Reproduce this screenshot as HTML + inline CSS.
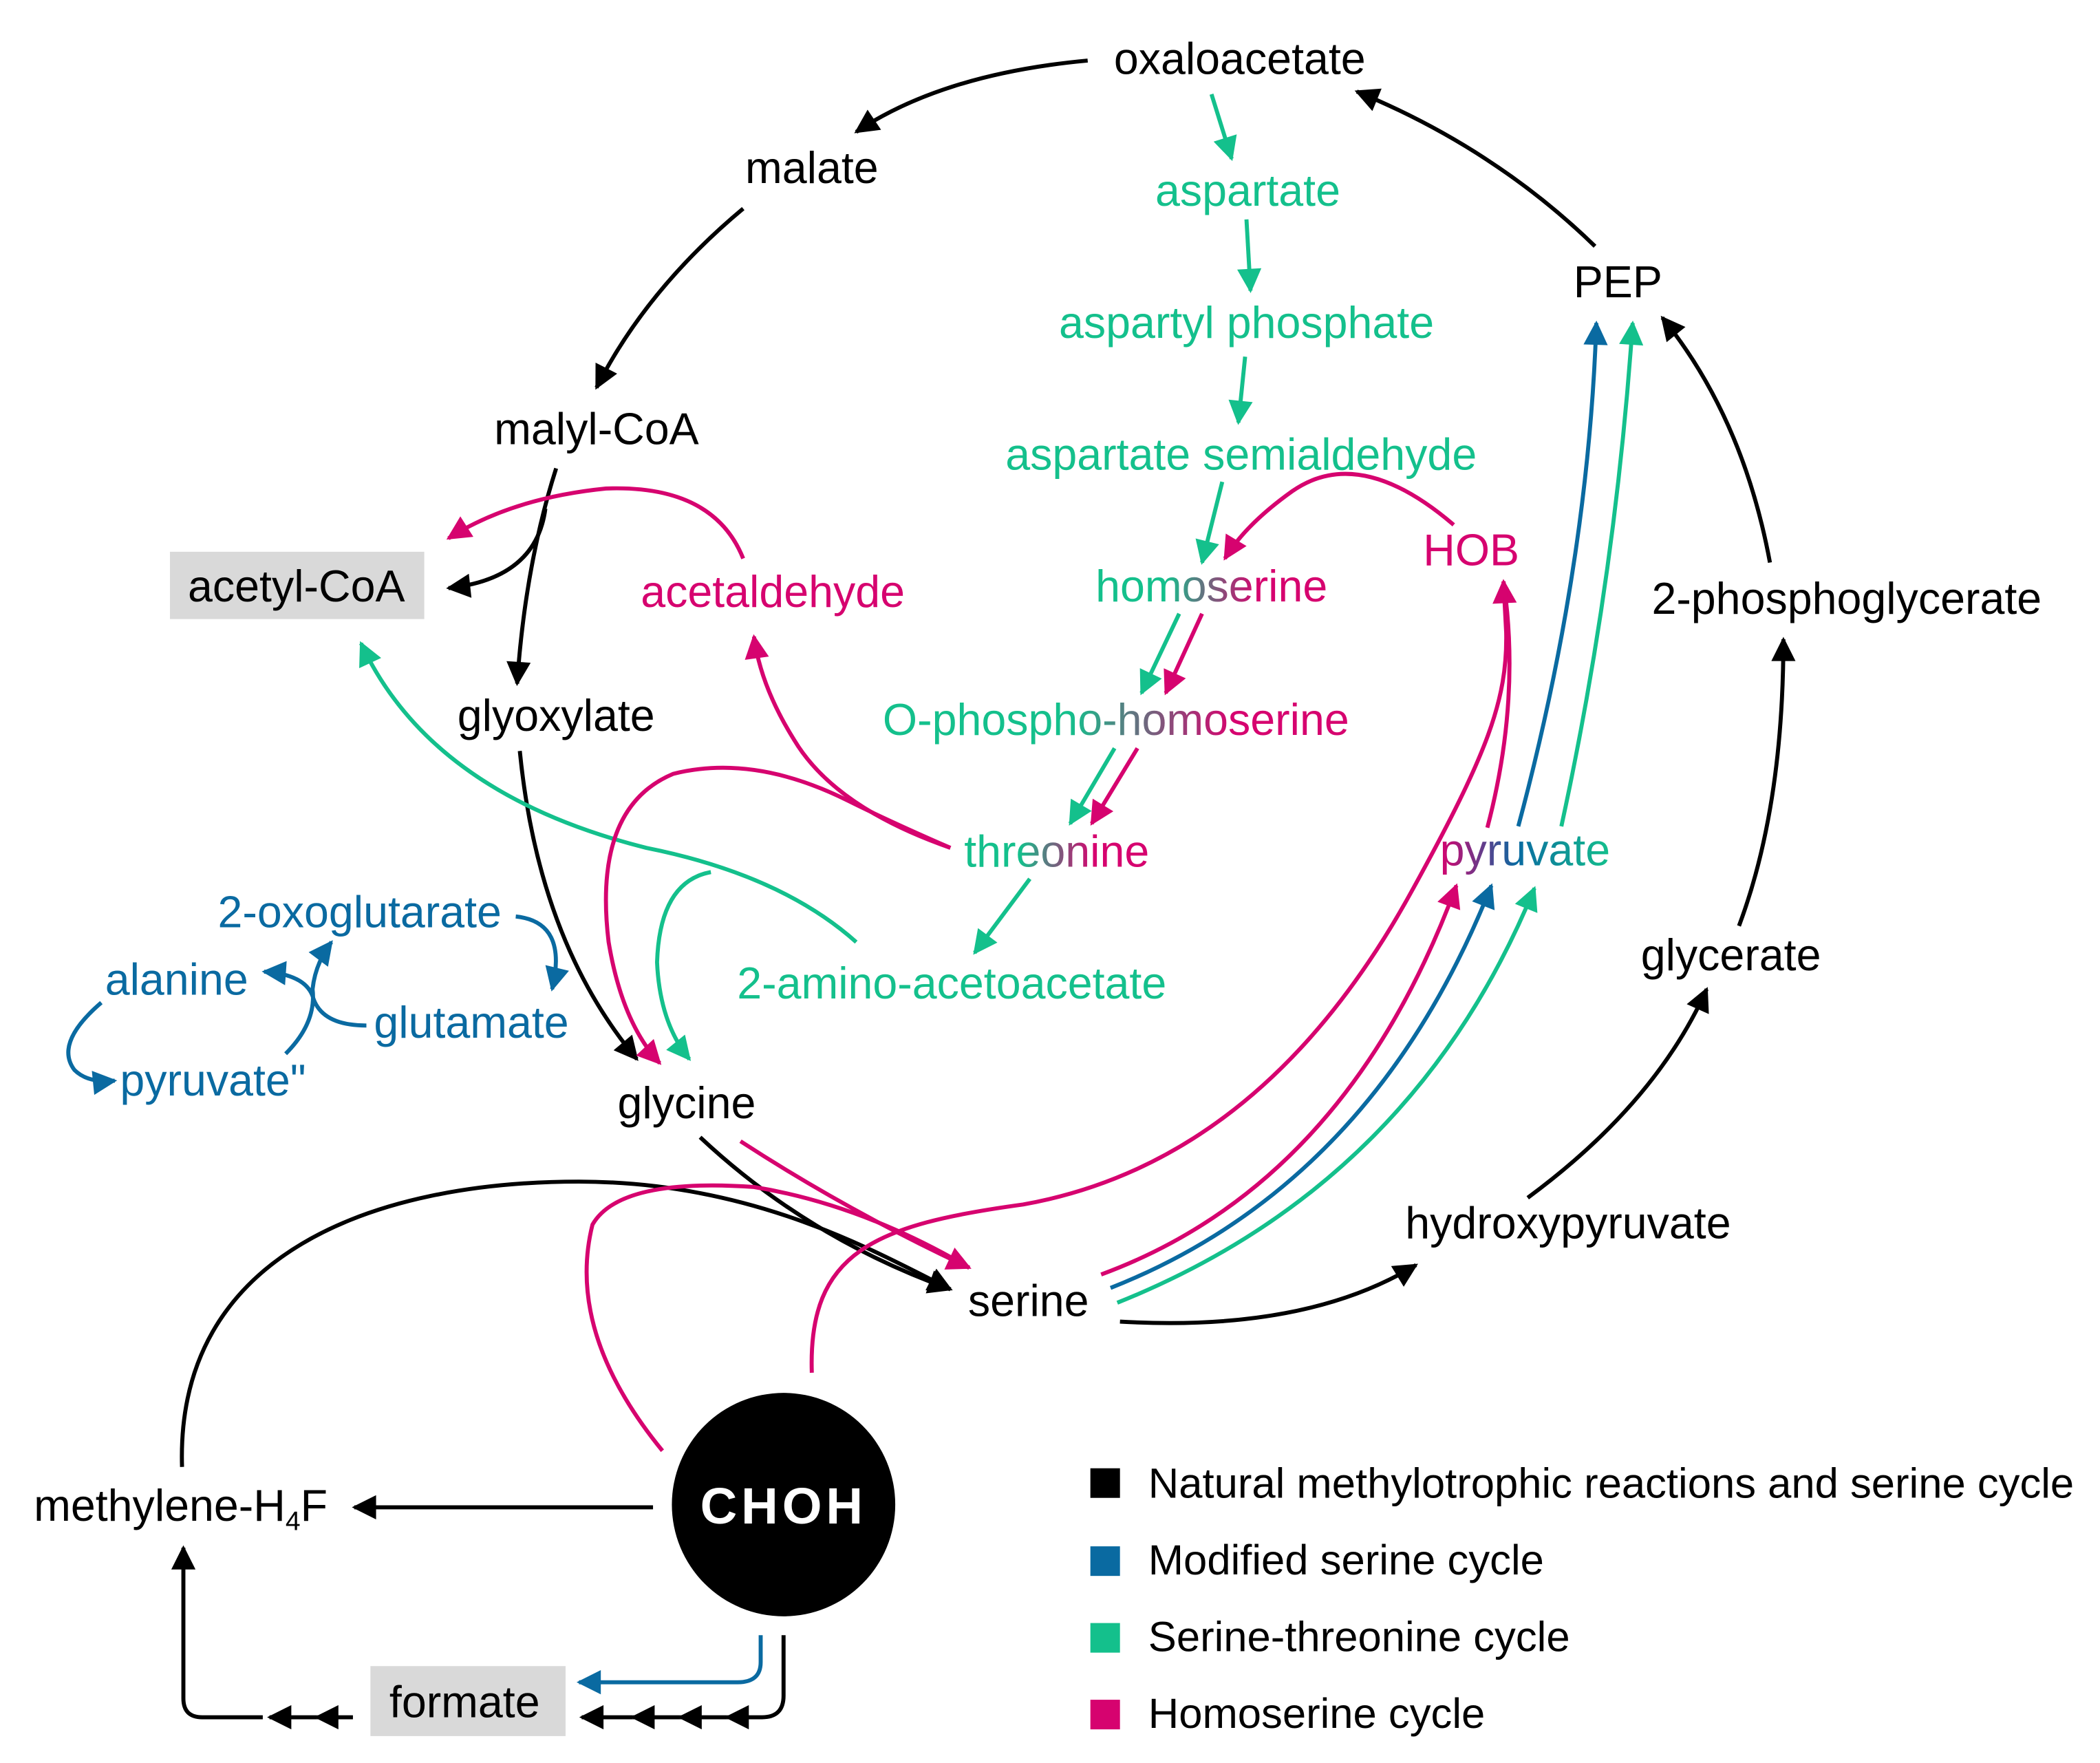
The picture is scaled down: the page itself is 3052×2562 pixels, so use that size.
<!DOCTYPE html>
<html><head><meta charset="utf-8"><style>
html,body{margin:0;padding:0;background:#fff;}
svg{display:block;}
text{font-family:"Liberation Sans",Arial,sans-serif;font-size:33px;}
</style></head><body>
<svg width="3052" height="2562" viewBox="0 0 1560 1310" xmlns="http://www.w3.org/2000/svg">
<defs>
<marker id="k" viewBox="0 0 10 10" refX="9" refY="5" markerWidth="7" markerHeight="6" orient="auto" markerUnits="strokeWidth"><path d="M0,0L10,5L0,10z" fill="#000"/></marker>
<marker id="g" viewBox="0 0 10 10" refX="9" refY="5" markerWidth="7" markerHeight="6" orient="auto" markerUnits="strokeWidth"><path d="M0,0L10,5L0,10z" fill="#14c08c"/></marker>
<marker id="m" viewBox="0 0 10 10" refX="9" refY="5" markerWidth="7" markerHeight="6" orient="auto" markerUnits="strokeWidth"><path d="M0,0L10,5L0,10z" fill="#d6036f"/></marker>
<marker id="b" viewBox="0 0 10 10" refX="9" refY="5" markerWidth="7" markerHeight="6" orient="auto" markerUnits="strokeWidth"><path d="M0,0L10,5L0,10z" fill="#0a6aa1"/></marker>
<linearGradient id="gm" x1="0" y1="0" x2="1" y2="0"><stop offset="0.3" stop-color="#14c08c"/><stop offset="0.7" stop-color="#d6036f"/></linearGradient>
<linearGradient id="gm2" x1="0" y1="0" x2="1" y2="0"><stop offset="0.4" stop-color="#14c08c"/><stop offset="0.75" stop-color="#d6036f"/></linearGradient>
<linearGradient id="pv" x1="0" y1="0" x2="1" y2="0"><stop offset="0" stop-color="#d6036f"/><stop offset="0.45" stop-color="#0a6aa1"/><stop offset="1" stop-color="#14c08c"/></linearGradient>
</defs>

<g fill="none" stroke-width="3">
<g stroke="#000">
<path d="M808,45 Q700,55 636,98" marker-end="url(#k)"/>
<path d="M552,155 Q480,215 443,288" marker-end="url(#k)"/>
<path d="M413,348 Q390,420 384,508" marker-end="url(#k)"/>
<path d="M405,378 Q398,430 333,437" marker-end="url(#k)"/>
<path d="M386,558 Q400,700 473,787" marker-end="url(#k)"/>
<path d="M520,845 Q600,920 706,958" marker-end="url(#k)"/>
<path d="M135,1090 C130,930 280,878 430,878 C560,878 650,930 706,958" marker-end="url(#k)"/>
<path d="M485,1120 L263,1120" marker-end="url(#k)"/>
<path d="M832,982 Q970,990 1052,940" marker-end="url(#k)"/>
<path d="M1135,890 Q1230,820 1268,735" marker-end="url(#k)"/>
<path d="M1292,688 Q1325,600 1325,475" marker-end="url(#k)"/>
<path d="M1315,418 Q1295,310 1235,236" marker-end="url(#k)"/>
<path d="M1185,183 Q1110,110 1008,68" marker-end="url(#k)"/>
<path d="M582,1215 L582,1260 Q582,1276 566,1276 L540,1276" marker-end="url(#k)"/>
<path d="M540,1276 L505,1276" marker-end="url(#k)"/>
<path d="M505,1276 L470,1276" marker-end="url(#k)"/>
<path d="M470,1276 L432,1276" marker-end="url(#k)"/>
<path d="M262,1276 L235,1276" marker-end="url(#k)"/>
<path d="M235,1276 L200,1276" marker-end="url(#k)"/>
<path d="M195,1276 L150,1276 Q136,1276 136,1262 L136,1150" marker-end="url(#k)"/>
</g>
<g stroke="#14c08c">
<path d="M900,70 L915,118" marker-end="url(#g)"/>
<path d="M926,163 L929,216" marker-end="url(#g)"/>
<path d="M925,265 L920,314" marker-end="url(#g)"/>
<path d="M908,358 L893,418" marker-end="url(#g)"/>
<path d="M876,456 L848,515" marker-end="url(#g)"/>
<path d="M828,556 L795,612" marker-end="url(#g)"/>
<path d="M765,653 L724,708" marker-end="url(#g)"/>
<path d="M636,700 Q580,650 480,630 Q320,590 268,478" marker-end="url(#g)"/>
<path d="M528,648 Q490,655 488,715 Q490,760 512,787" marker-end="url(#g)"/>
<path d="M830,968 Q1050,880 1140,660" marker-end="url(#g)"/>
<path d="M1160,614 Q1200,430 1213,240" marker-end="url(#g)"/>
</g>
<g stroke="#0a6aa1">
<path d="M825,957 Q1020,880 1108,658" marker-end="url(#b)"/>
<path d="M1128,614 Q1180,420 1186,240" marker-end="url(#b)"/>
<path d="M383,681 Q422,685 410,735" marker-end="url(#b)"/>
<path d="M272,762 Q238,762 232,740 Q226,724 196,722" marker-end="url(#b)"/>
<path d="M212,783 Q235,760 232,735 Q234,716 246,700" marker-end="url(#b)"/>
<path d="M75,745 Q40,775 55,795 Q65,805 85,803" marker-end="url(#b)"/>
<path d="M565,1215 L565,1235 Q565,1250 548,1250 L430,1250" marker-end="url(#b)"/>
</g>
<g stroke="#d6036f">
<path d="M1080,390 Q1010,330 960,365 Q925,390 910,415" marker-end="url(#m)"/>
<path d="M893,456 L866,515" marker-end="url(#m)"/>
<path d="M845,556 L811,612" marker-end="url(#m)"/>
<path d="M706,630 Q620,600 590,550 Q565,510 560,473" marker-end="url(#m)"/>
<path d="M552,415 Q530,360 450,363 Q380,370 333,400" marker-end="url(#m)"/>
<path d="M706,630 Q660,610 630,595 Q560,560 500,575 Q440,600 452,700 Q462,760 490,790" marker-end="url(#m)"/>
<path d="M550,848 Q630,900 720,942" marker-end="url(#m)"/>
<path d="M492,1078 Q420,990 440,910 Q460,875 560,882 Q640,895 720,942"/>
<path d="M603,1020 C600,930 650,910 760,895 C900,870 990,770 1050,660 C1105,560 1120,520 1119,470 L1117,432" marker-end="url(#m)"/>
<path d="M1105,615 Q1130,520 1117,432"/>
<path d="M818,947 Q1000,880 1082,658" marker-end="url(#m)"/>
</g>
</g>

<rect x="126" y="410" width="189" height="50" fill="#d9d9d9"/>
<rect x="275" y="1238" width="145" height="52" fill="#d9d9d9"/>
<circle cx="582" cy="1118" r="83" fill="#000"/>
<text x="582" y="1132" text-anchor="middle" fill="#fff" font-weight="bold" style="font-size:38px;letter-spacing:3px">CHOH</text>

<g fill="#000" text-anchor="middle">
<text x="921" y="55">oxaloacetate</text>
<text x="603" y="136">malate</text>
<text x="1202" y="221">PEP</text>
<text x="443" y="330">malyl-CoA</text>
<text x="220" y="447">acetyl-CoA</text>
<text x="1372" y="456">2-phosphoglycerate</text>
<text x="413" y="543">glyoxylate</text>
<text x="1286" y="721">glycerate</text>
<text x="510" y="831">glycine</text>
<text x="1165" y="920">hydroxypyruvate</text>
<text x="764" y="978">serine</text>
<text x="345" y="1276">formate</text>
<text x="134" y="1130">methylene-H<tspan style="font-size:20px" dy="7">4</tspan><tspan dy="-7">F</tspan></text>
</g>
<g fill="#14c08c" text-anchor="middle">
<text x="927" y="153">aspartate</text>
<text x="926" y="251">aspartyl phosphate</text>
<text x="922" y="349">aspartate semialdehyde</text>
<text x="707" y="742">2-amino-acetoacetate</text>
</g>
<g text-anchor="middle">
<text x="1093" y="420" fill="#d6036f">HOB</text>
<text x="574" y="451" fill="#d6036f">acetaldehyde</text>
<text x="900" y="447" fill="url(#gm)">homoserine</text>
<text x="829" y="546" fill="url(#gm2)">O-phospho-homoserine</text>
<text x="785" y="644" fill="url(#gm)">threonine</text>
<text x="1133" y="643" fill="url(#pv)">pyruvate</text>
</g>
<g fill="#0a6aa1" text-anchor="middle">
<text x="267" y="689">2-oxoglutarate</text>
<text x="131" y="739">alanine</text>
<text x="350" y="771">glutamate</text>
<text x="158" y="814">pyruvate"</text>
</g>

<rect x="810" y="1091" width="22" height="22" fill="#000"/>
<rect x="810" y="1149" width="22" height="22" fill="#0a6aa1"/>
<rect x="810" y="1206" width="22" height="22" fill="#14c08c"/>
<rect x="810" y="1263" width="22" height="22" fill="#d6036f"/>
<g fill="#000">
<text x="853" y="1113" style="font-size:31.5px">Natural methylotrophic reactions and serine cycle</text>
<text x="853" y="1170" style="font-size:31.5px">Modified serine cycle</text>
<text x="853" y="1227" style="font-size:31.5px">Serine-threonine cycle</text>
<text x="853" y="1284" style="font-size:31.5px">Homoserine cycle</text>
</g>
</svg>
</body></html>
